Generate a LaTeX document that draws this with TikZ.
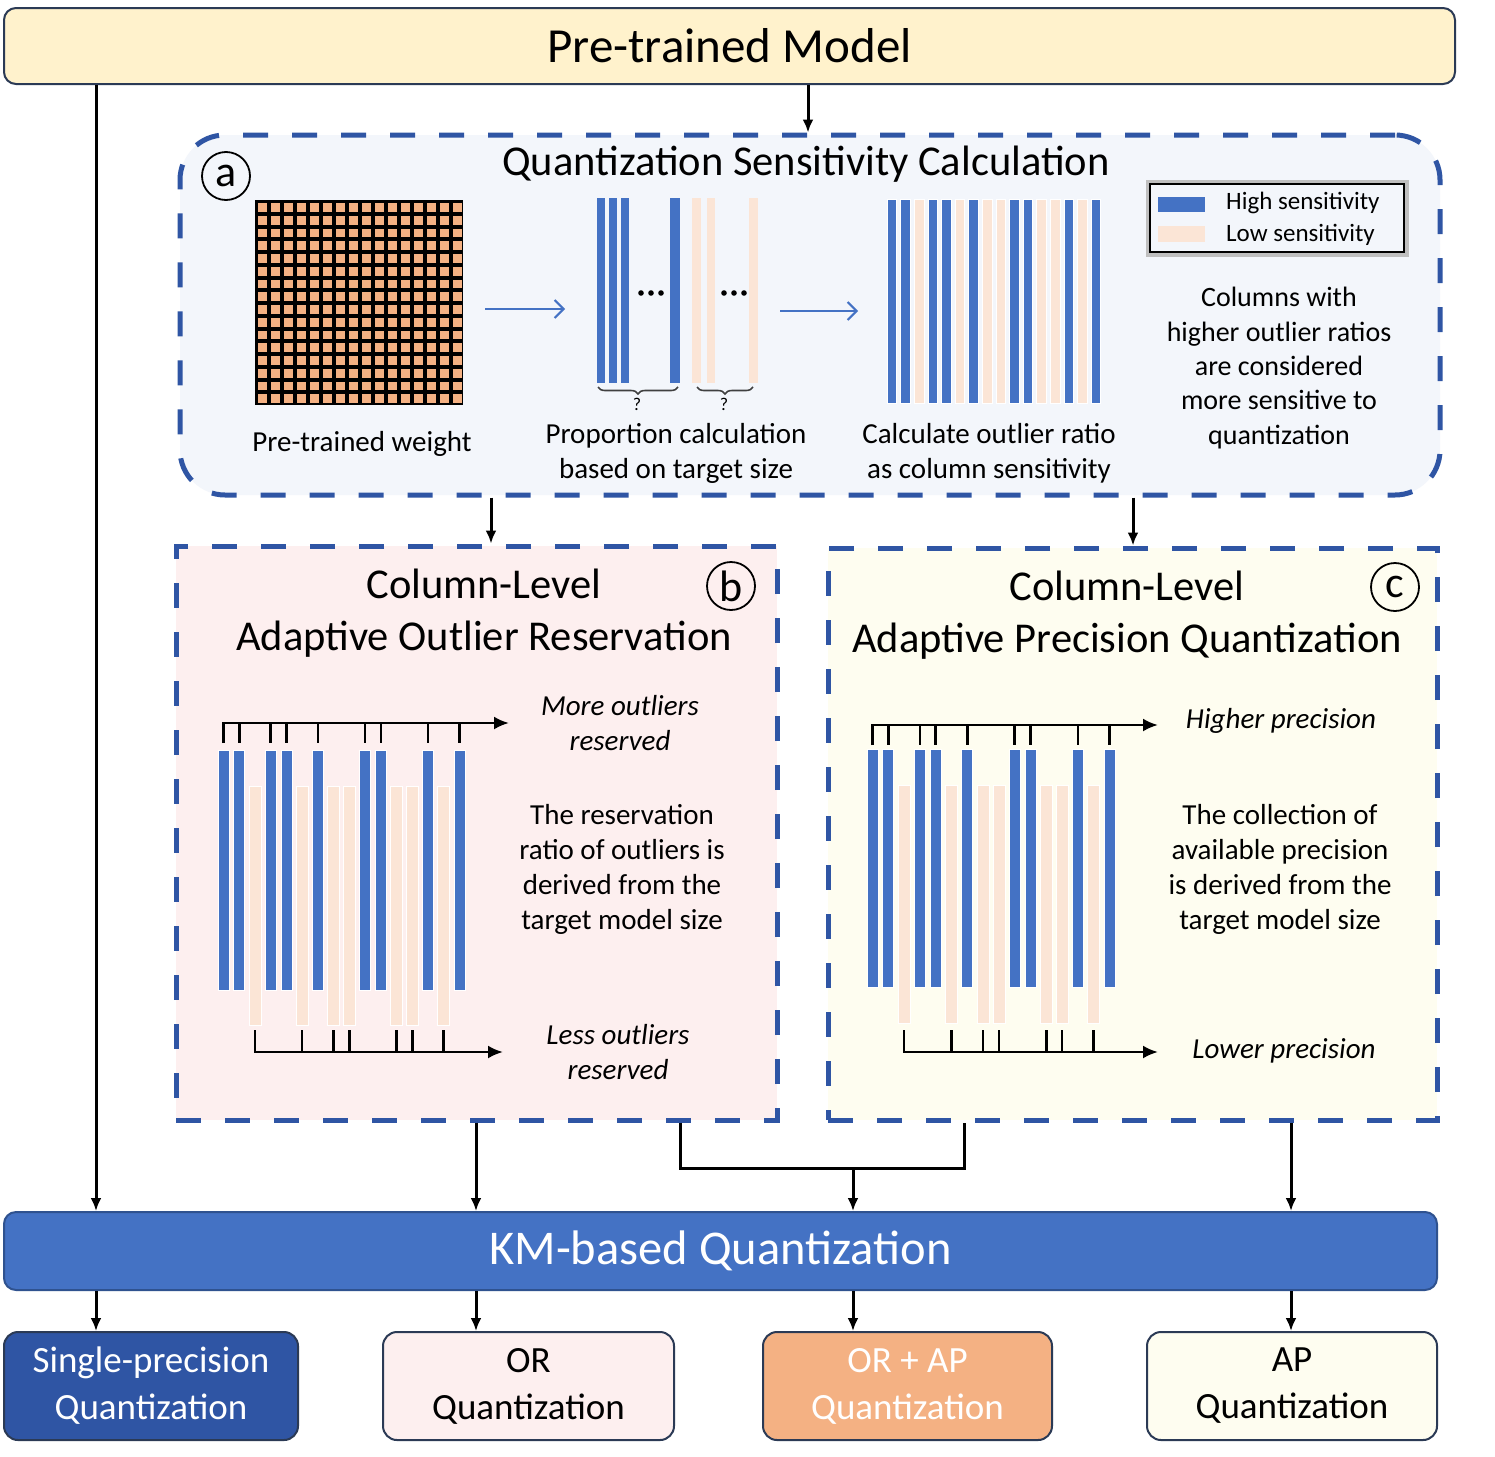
\documentclass[tikz,border=0pt]{standalone}
\usepackage{fontspec}
\setmainfont{Carlito}
\usetikzlibrary{arrows.meta,decorations.pathreplacing,calc}
\definecolor{dashblue}{HTML}{2F55A4}
\definecolor{barblue}{HTML}{4472C4}
\definecolor{barpeach}{HTML}{FBE5D6}
\definecolor{sqorange}{HTML}{F4B183}
\definecolor{topfill}{HTML}{FFF2CC}
\definecolor{edgedark}{HTML}{2B3A55}
\definecolor{afill}{HTML}{F3F6FB}
\definecolor{bfill}{HTML}{FDEFEF}
\definecolor{cfill}{HTML}{FEFDF0}
\definecolor{kmedge}{HTML}{2F528F}
\definecolor{spfill}{HTML}{2F55A4}
\definecolor{braceg}{HTML}{404040}
\newcommand{\myfs}[2]{\fontsize{#1}{#2}\selectfont}
\tikzset{
  arr/.style={line width=3pt, -{Latex[length=13pt,width=11pt]}},
  bluearr/.style={draw=barblue, line width=2pt, -{Straight Barb[length=9pt,width=18pt,line width=2pt]}},
  dashbox/.style={draw=dashblue, line width=5pt, dash pattern=on 25pt off 24pt, inner sep=0pt},
  axisarr/.style={line width=2.6pt, -{Latex[length=15pt,width=13pt]}},
  ticksty/.style={line width=2.6pt},
  body/.style={font=\myfs{29}{35}, align=center, inner sep=0pt},
  bodyit/.style={font=\myfs{29}{35}\itshape, align=center, inner sep=0pt},
  sectitle/.style={font=\myfs{42.5}{52}, align=center, inner sep=0pt},
  letter/.style={circle, draw=black, line width=1.8pt, minimum size=48pt, inner sep=0pt, font=\myfs{44}{44}},
  bbox/.style={draw=edgedark, line width=2pt, rounded corners=14pt, minimum height=108pt, inner sep=0pt, align=center, font=\myfs{37}{47}},
}
\begin{document}
\begin{tikzpicture}[x=1pt,y=-1pt]
\useasboundingbox (0,0) rectangle (1495,1456);
\fill[white] (0,0) rectangle (1495,1456);

% helper x positions
\coordinate (xL) at (96,0);
\coordinate (xT) at (808,0);
\coordinate (xA1) at (491,0);
\coordinate (xA2) at (1133,0);
\coordinate (xB) at (476,0);
\coordinate (xC) at (1291,0);
\coordinate (xJ) at (853,0);
\coordinate (xBr1) at (680,0);
\coordinate (xBr2) at (964,0);

% top box
\node[draw=edgedark, fill=topfill, line width=2pt, rounded corners=12pt, minimum width=1451pt, minimum height=76pt, inner sep=0pt, font=\myfs{49}{58}] (top) at (729.5,46) {Pre-trained Model};

% section a
\node[dashbox, fill=afill, rounded corners=45pt, minimum width=1260pt, minimum height=360pt] (qsc) at (810,315) {};
\node[letter] (ca) at (226,176) {a};
\node[sectitle] (ta) at (806,164) {Quantization Sensitivity Calculation};

% weight matrix
\node[fill=black, minimum width=208pt, minimum height=205pt, inner sep=0pt] (wmat) at (359,302.5) {};
\foreach \i in {0,...,15}{
  \foreach \j in {0,...,15}{
    \fill[sqorange] (257.5+13*\i,203+12.75*\j) rectangle ++(9.5,8.8);
  }
}
\node[body] (twm) at (362,444) {Pre-trained weight};

% group 1 bars
\node[minimum width=170pt, minimum height=185pt, inner sep=0pt] (grp1) at (677,290.5) {};
\foreach \a/\b in {597/605,609/617,621/629,670/680}{\fill[barblue] (\a,198) rectangle (\b,383);}
\foreach \a/\b in {692/701,707/715,749/758}{\fill[barpeach] (\a,198) rectangle (\b,383);}
\foreach \x in {641,651,661,724,734,744}{\fill[black] (\x,293) circle[radius=2.8pt];}
\draw[decorate, decoration={brace, amplitude=7pt, mirror}, line width=1.6pt, draw=braceg] (598,387) -- (678,387);
\draw[decorate, decoration={brace, amplitude=7pt, mirror}, line width=1.6pt, draw=braceg] (697,387) -- (753,387);
\node[font=\myfs{18}{18}, inner sep=0pt] (q1) at (637,404) {?};
\node[font=\myfs{18}{18}, inner sep=0pt] (q2) at (724,404) {?};
\node[body] (tpc) at (676,453) {Proportion calculation\\based on target size};

% group 2 bars
\node[minimum width=214pt, minimum height=204pt, inner sep=0pt] (grp2) at (993.5,301) {};
\foreach \c [count=\k from 0] in {barblue,barblue,barpeach,barblue,barblue,barpeach,barblue,barpeach,barpeach,barblue,barblue,barpeach,barpeach,barblue,barpeach,barblue}{
  \fill[\c, draw=white, line width=0.8pt] (887.25+13.6*\k,199) rectangle ++(9.5,204);
}
\node[body] (tco) at (989,453) {Calculate outlier ratio\\as column sensitivity};

% blue arrows
\coordinate (ba1s) at (485,309);
\coordinate (ba1e) at (565,309);
\coordinate (ba2s) at (780,311);
\coordinate (ba2e) at (858,311);
\draw[bluearr] (ba1s) -- (ba1e);
\draw[bluearr] (ba2s) -- (ba2e);

% legend
\node[draw=black!25, line width=5pt, minimum width=258pt, minimum height=72pt, inner sep=0pt] (legsh) at (1277,218) {};
\node[draw=black, fill=afill, line width=2pt, minimum width=254pt, minimum height=68pt, inner sep=0pt] (leg) at (1277,218) {};
\fill[barblue] (1158,197) rectangle (1205,212);
\fill[barpeach] (1158,226) rectangle (1205,242);
\node[anchor=west, font=\myfs{25}{30}, inner sep=0pt] (lh) at (1226,203) {High sensitivity};
\node[anchor=west, font=\myfs{25}{30}, inner sep=0pt] (ll) at (1226,235) {Low sensitivity};
\node[body, font=\myfs{28}{34.3}] (tcw) at (1279,368) {Columns with\\higher outlier ratios\\are considered\\more sensitive to\\quantization};

% section b
\node[dashbox, fill=bfill, minimum width=601pt, minimum height=574pt] (orb) at (476.5,833) {};
\node[letter] (cb) at (731,586) {b};
\node[sectitle] (tb) at (484,613) {Column-Level\\Adaptive Outlier Reservation};
\foreach \k in {0,1,3,4,6,9,10,13,15}{
  \fill[barblue, draw=white, line width=0.8pt] (223.5+15.73*\k-5.5,750) rectangle ++(11,240);
  \draw[ticksty] (223.5+15.73*\k,723) -- (223.5+15.73*\k,743);
}
\foreach \k in {2,5,7,8,11,12,14}{
  \fill[barpeach, draw=white, line width=0.8pt] (223.5+15.73*\k-6,786) rectangle ++(12,239);
  \draw[ticksty] (223.5+15.73*\k,1030) -- (223.5+15.73*\k,1052);
}
\draw[axisarr] (223.5,743) -- (223.5,723) -- (509,723);
\draw[axisarr] (255,1030) -- (255,1052) -- (503,1052);
\node[bodyit] (tmo) at (620,723) {More outliers\\reserved};
\node[body] (trr) at (622,869) {The reservation\\ratio of outliers is\\derived from the\\target model size};
\node[bodyit] (tlo) at (618,1052) {Less outliers\\reserved};

% section c
\node[dashbox, fill=cfill, minimum width=609pt, minimum height=572pt] (apq) at (1132.5,834) {};
\node[letter] (cc) at (1395,587) {c};
\node[sectitle] (tc) at (1127,615) {Column-Level\\Adaptive Precision Quantization};
\foreach \k in {0,1,3,4,6,9,10,13,15}{
  \fill[barblue, draw=white, line width=0.8pt] (872.5+15.8*\k-5.5,749) rectangle ++(11,238);
  \draw[ticksty] (872.5+15.8*\k,725) -- (872.5+15.8*\k,745);
}
\foreach \k in {2,5,7,8,11,12,14}{
  \fill[barpeach, draw=white, line width=0.8pt] (872.5+15.8*\k-6,785) rectangle ++(12,238);
  \draw[ticksty] (872.5+15.8*\k,1030) -- (872.5+15.8*\k,1052);
}
\draw[axisarr] (872.5,745) -- (872.5,725) -- (1158,725);
\draw[axisarr] (904.1,1030) -- (904.1,1052) -- (1158,1052);
\node[bodyit] (thp) at (1281,721) {Higher precision};
\node[body] (tcp) at (1280,869) {The collection of\\available precision\\is derived from the\\target model size};
\node[bodyit] (tlp) at (1284,1051) {Lower precision};

% KM box
\node[draw=kmedge, fill=barblue, line width=2pt, rounded corners=12pt, minimum width=1433pt, minimum height=78pt, inner sep=0pt, text=white, font=\myfs{48.5}{58}] (km) at (720.5,1251) {KM-based Quantization};

% bottom boxes
\node[bbox, fill=spfill, draw=edgedark, text=white, minimum width=294pt] (sp) at (151,1386) {Single-precision\\Quantization};
\node[bbox, fill=bfill, minimum width=291pt] (orq) at (528.5,1386) {OR\\Quantization};
\node[bbox, fill=sqorange, text=white, minimum width=289pt] (orap) at (907.5,1386) {OR + AP\\Quantization};
\node[bbox, fill=cfill, minimum width=290pt] (apqq) at (1292,1386) {AP\\Quantization};

% connectors
\draw[arr] (xL |- top.south) -- (xL |- km.north);
\draw[arr] (xT |- top.south) -- (xT |- qsc.north);
\draw[arr] (xA1 |- qsc.south) -- (xA1 |- orb.north);
\draw[arr] (xA2 |- qsc.south) -- (xA2 |- apq.north);
\draw[arr] (xB |- orb.south) -- (xB |- km.north);
\draw[arr] (xC |- apq.south) -- (xC |- km.north);
\coordinate (join) at (853,1168);
\draw[line width=3pt] (xBr1 |- orb.south) |- (join) -| (xBr2 |- apq.south);
\draw[arr] (join) -- (xJ |- km.north);
\draw[arr] (xL |- km.south) -- (xL |- sp.north);
\draw[arr] (xB |- km.south) -- (xB |- orq.north);
\draw[arr] (xJ |- km.south) -- (xJ |- orap.north);
\draw[arr] (xC |- km.south) -- (xC |- apqq.north);
\end{tikzpicture}
\end{document}
